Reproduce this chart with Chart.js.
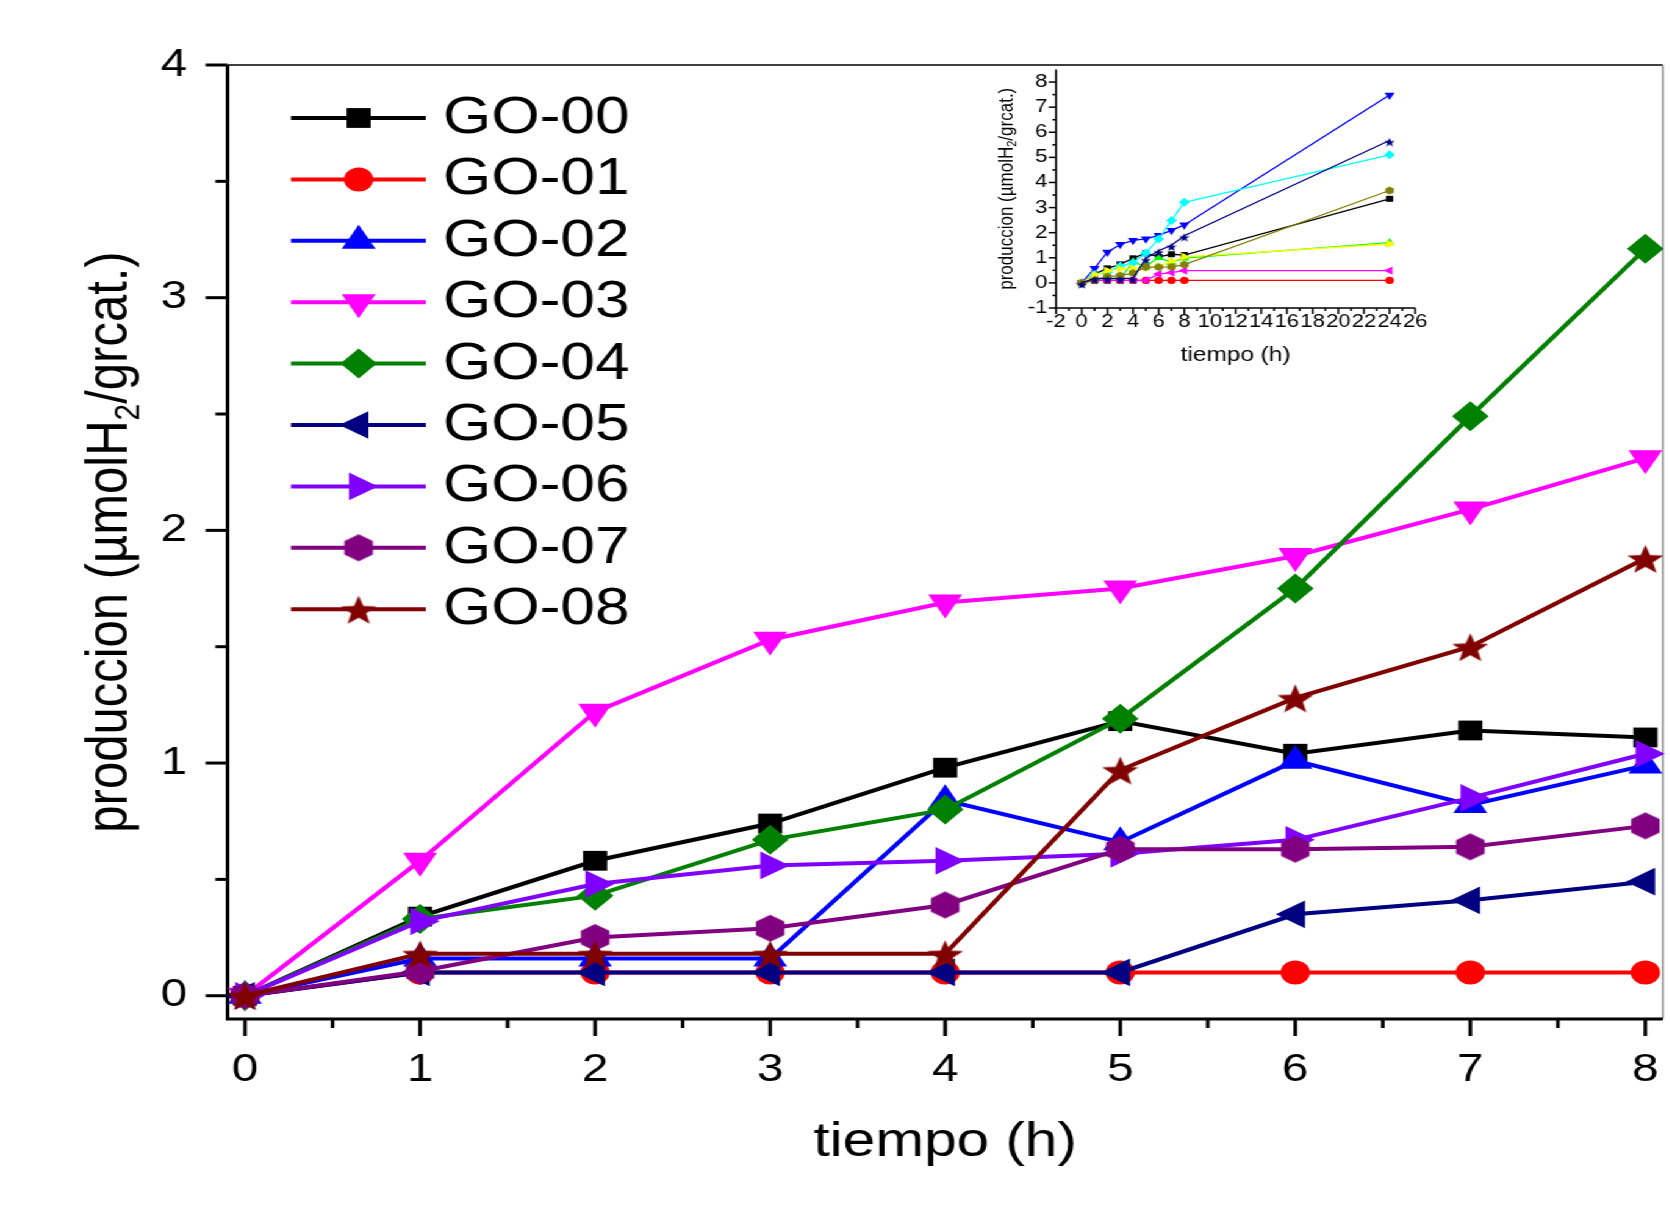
<!DOCTYPE html>
<html>
<head>
<meta charset="utf-8">
<script src="https://cdn.jsdelivr.net/npm/chart.js@4.4.1/dist/chart.umd.min.js"></script>
<style>
  html, body { margin: 0; padding: 0; background: #fff; overflow: hidden; }
  /* la figura original esta estirada en horizontal: se dibuja mas angosta y se estira */
  #lienzo { position: relative; width: 1369px; height: 1225px; transform: scaleX(1.22); transform-origin: 0 0; }
  #graficoPrincipal { position: absolute; left: 0; top: 0; }
  #graficoInset { position: absolute; left: 790px; top: 50px; }
</style>
</head>
<body>
<div id="lienzo">
  <canvas id="graficoPrincipal" width="1369" height="1225"></canvas>
  <canvas id="graficoInset" width="390" height="330"></canvas>
</div>
<script>
// datos (h, umol H2 / g cat.)
var tiempos = [0, 1, 2, 3, 4, 5, 6, 7, 8];
var go00 = [0, 0.34, 0.58, 0.74, 0.98, 1.18, 1.04, 1.14, 1.11];
var go01 = [0, 0.10, 0.10, 0.10, 0.10, 0.10, 0.10, 0.10, 0.10];
var go02 = [0, 0.16, 0.16, 0.16, 0.84, 0.66, 1.01, 0.82, 0.99];
var go03 = [0, 0.58, 1.22, 1.53, 1.69, 1.75, 1.89, 2.09, 2.31];
var go04 = [0, 0.33, 0.43, 0.67, 0.80, 1.19, 1.75, 2.49, 3.21];
var go05 = [0, 0.10, 0.10, 0.10, 0.10, 0.10, 0.35, 0.41, 0.49];
var go06 = [0, 0.32, 0.48, 0.56, 0.58, 0.61, 0.67, 0.85, 1.04];
var go07 = [0, 0.105, 0.25, 0.29, 0.39, 0.63, 0.63, 0.64, 0.73];
var go08 = [0, 0.18, 0.18, 0.18, 0.18, 0.97, 1.28, 1.50, 1.88];

// punto a las 24 h (solo en el inset)
var tiempoFinal = 24;
var produccion24 = [3.35, 0.10, 1.60, 7.48, 5.10, 0.49, 1.55, 3.68, 5.67];

var nombres = ['GO-00', 'GO-01', 'GO-02', 'GO-03', 'GO-04', 'GO-05', 'GO-06', 'GO-07', 'GO-08'];
var series = [go00, go01, go02, go03, go04, go05, go06, go07, go08];
var coloresPrincipal = ['#000000', '#ff0000', '#0000ff', '#ff00ff', '#008000', '#000080', '#8000ff', '#800080', '#800000'];
var coloresInset = ['#000000', '#ff0000', '#00ff00', '#0000ff', '#00ffff', '#ff00ff', '#ffff00', '#808000', '#000080'];

var ticksY = [0, 1, 2, 3, 4];
var ticksX = [0, 1, 2, 3, 4, 5, 6, 7, 8];
var ticksYInset = [-1, 0, 1, 2, 3, 4, 5, 6, 7, 8];
var ticksXInset = [-2, 0, 2, 4, 6, 8, 10, 12, 14, 16, 18, 20, 22, 24, 26];

var FUENTE = "'Liberation Sans', Arial, sans-serif";

function crearHexagono(radio, color) {
	var c = document.createElement('canvas');
	var lado = Math.ceil(radio * 2 + 2);
	c.width = lado; c.height = lado;
	var ctx = c.getContext('2d');
	ctx.fillStyle = color;
	ctx.beginPath();
	for (var i = 0; i < 6; i++) {
		var a = Math.PI / 2 + i * Math.PI / 3;
		ctx.lineTo(lado / 2 + radio * Math.cos(a), lado / 2 - radio * Math.sin(a));
	}
	ctx.closePath();
	ctx.fill();
	return c;
}

function crearEstrella(radio, color) {
	var c = document.createElement('canvas');
	var lado = Math.ceil(radio * 2 + 2);
	c.width = lado; c.height = lado;
	var ctx = c.getContext('2d');
	ctx.fillStyle = color;
	ctx.beginPath();
	for (var i = 0; i < 10; i++) {
		var r = i % 2 === 0 ? radio : radio * 0.42;
		var a = -Math.PI / 2 + i * Math.PI / 5;
		ctx.lineTo(lado / 2 + r * Math.cos(a), lado / 2 + 2 + r * Math.sin(a));
	}
	ctx.closePath();
	ctx.fill();
	return c;
}

// simbolo de cada serie; escala 1 = grafico principal
function simbolo(i, color, escala) {
	switch (i) {
		case 0: return { estilo: 'rect', radio: 14 * escala, rot: 0 };
		case 1: return { estilo: 'circle', radio: 12 * escala, rot: 0 };
		case 2: return { estilo: 'triangle', radio: 16 * escala, rot: 0 };
		case 3: return { estilo: 'triangle', radio: 16 * escala, rot: 180 };
		case 4: return { estilo: 'rectRot', radio: 15 * escala, rot: 0 };
		case 5: return { estilo: 'triangle', radio: 16 * escala, rot: -90 };
		case 6: return { estilo: 'triangle', radio: 16 * escala, rot: 90 };
		case 7: return { estilo: crearHexagono(13.5 * escala, color), radio: 13.5 * escala, rot: 0 };
		default: return { estilo: crearEstrella(15.5 * escala, color), radio: 15.5 * escala, rot: 0 };
	}
}

function construirDatasets(xs, listas, colores, escala, grosor) {
	return listas.map(function(valores, i) {
		var s = simbolo(i, colores[i], escala);
		return {
			label: nombres[i],
			data: valores.map(function(v, j) { return { x: xs[j], y: v }; }),
			borderColor: colores[i],
			backgroundColor: colores[i],
			borderWidth: grosor,
			pointStyle: s.estilo,
			pointRadius: s.radio,
			pointHoverRadius: s.radio,
			pointRotation: s.rot,
			pointBackgroundColor: colores[i],
			pointBorderColor: colores[i],
			pointBorderWidth: 0,
			tension: 0,
			clip: false,
			order: listas.length - i
		};
	});
}

// titulo del eje Y con subindice
function tituloY(ctx, x, y, tam) {
	var partes = ['produccion (\u00b5molH', '2', '/grcat.)'];
	var fSub = Math.round(tam * 0.62);
	ctx.save();
	ctx.translate(x, y);
	ctx.rotate(-Math.PI / 2);
	ctx.fillStyle = '#000';
	ctx.textBaseline = 'middle';
	ctx.textAlign = 'left';
	ctx.font = tam + 'px ' + FUENTE;
	var w1 = ctx.measureText(partes[0]).width;
	var w3 = ctx.measureText(partes[2]).width;
	ctx.font = fSub + 'px ' + FUENTE;
	var w2 = ctx.measureText(partes[1]).width;
	var x0 = -(w1 + w2 + w3) / 2;
	ctx.font = tam + 'px ' + FUENTE;
	ctx.fillText(partes[0], x0, 0);
	ctx.fillText(partes[2], x0 + w1 + w2, 0);
	ctx.font = fSub + 'px ' + FUENTE;
	ctx.fillText(partes[1], x0 + w1, tam * 0.32);
	ctx.restore();
}

function marcas(ctx, escala, valores, eje, largo, desdeX, desdeY) {
	valores.forEach(function(v) {
		var p = escala.getPixelForValue(v);
		ctx.beginPath();
		if (eje === 'x') { ctx.moveTo(p, desdeY); ctx.lineTo(p, desdeY + largo); }
		else { ctx.moveTo(desdeX, p); ctx.lineTo(desdeX - largo, p); }
		ctx.stroke();
	});
}

function medios(lista) {
	var r = [];
	for (var i = 0; i < lista.length - 1; i++) r.push((lista[i] + lista[i + 1]) / 2);
	return r;
}

var pluginPrincipal = {
	id: 'marcoPrincipal',
	beforeDatasetsDraw: function(chart) {
		var ctx = chart.ctx, ca = chart.chartArea;
		ctx.save();
		ctx.strokeStyle = '#000';
		ctx.lineWidth = 1.5;
		ctx.beginPath(); ctx.moveTo(ca.left, ca.top); ctx.lineTo(ca.right, ca.top); ctx.stroke();
		ctx.strokeStyle = '#888';
		ctx.beginPath(); ctx.moveTo(ca.right, ca.top); ctx.lineTo(ca.right, ca.bottom); ctx.stroke();
		ctx.strokeStyle = '#000';
		ctx.lineWidth = 3;
		ctx.beginPath(); ctx.moveTo(ca.left, ca.top); ctx.lineTo(ca.left, ca.bottom); ctx.lineTo(ca.right, ca.bottom); ctx.stroke();
		marcas(ctx, chart.scales.y, ticksY, 'y', 18, ca.left, 0);
		marcas(ctx, chart.scales.y, medios(ticksY), 'y', 10, ca.left, 0);
		marcas(ctx, chart.scales.x, ticksX, 'x', 17, 0, ca.bottom);
		marcas(ctx, chart.scales.x, medios(ticksX), 'x', 9, 0, ca.bottom);
		ctx.restore();
	},
	afterDraw: function(chart) {
		var ctx = chart.ctx, ca = chart.chartArea;
		ctx.save();
		// leyenda
		chart.data.datasets.forEach(function(ds, i) {
			var y = 118 + i * 61.4;
			ctx.strokeStyle = ds.borderColor;
			ctx.fillStyle = ds.borderColor;
			ctx.lineWidth = 4;
			ctx.beginPath(); ctx.moveTo(238.5, y); ctx.lineTo(349, y); ctx.stroke();
			Chart.helpers.drawPoint(ctx, { pointStyle: ds.pointStyle, rotation: ds.pointRotation, radius: ds.pointRadius, borderWidth: 0 }, 294, y);
			ctx.fillStyle = '#000';
			ctx.font = '51px ' + FUENTE;
			ctx.textBaseline = 'middle';
			ctx.textAlign = 'left';
			ctx.fillText(ds.label, 363, y + 1);
		});
		// titulos
		ctx.fillStyle = '#000';
		ctx.font = '48px ' + FUENTE;
		ctx.textAlign = 'center';
		ctx.textBaseline = 'middle';
		ctx.fillText('tiempo (h)', (ca.left + ca.right) / 2, 1143);
		ctx.restore();
		tituloY(ctx, 90, (ca.top + ca.bottom) / 2, 49);
	}
};

var pluginInset = {
	id: 'marcoInset',
	beforeDatasetsDraw: function(chart) {
		var ctx = chart.ctx, ca = chart.chartArea;
		ctx.save();
		ctx.strokeStyle = '#000';
		ctx.lineWidth = 1.5;
		ctx.beginPath(); ctx.moveTo(ca.left, ca.top); ctx.lineTo(ca.left, ca.bottom); ctx.lineTo(ca.right, ca.bottom); ctx.stroke();
		marcas(ctx, chart.scales.y, ticksYInset, 'y', 6, ca.left, 0);
		marcas(ctx, chart.scales.y, medios(ticksYInset), 'y', 3, ca.left, 0);
		marcas(ctx, chart.scales.x, ticksXInset, 'x', 6, 0, ca.bottom);
		marcas(ctx, chart.scales.x, medios(ticksXInset), 'x', 3, 0, ca.bottom);
		ctx.restore();
	},
	afterDraw: function(chart) {
		var ctx = chart.ctx, ca = chart.chartArea;
		ctx.save();
		ctx.fillStyle = '#000';
		ctx.font = '20px ' + FUENTE;
		ctx.textAlign = 'center';
		ctx.textBaseline = 'middle';
		ctx.fillText('tiempo (h)', (ca.left + ca.right) / 2, 305);
		ctx.restore();
		tituloY(ctx, 35, (ca.top + ca.bottom) / 2, 17);
	}
};

function escalaFija(valores) {
	return function(scale) { scale.ticks = valores.map(function(v) { return { value: v }; }); };
}

// fija el tamano del eje y quita el margen extra que Chart.js reserva para las etiquetas
function tamanoFijo(prop, valor) {
	return function(s) {
		s[prop] = valor;
		s.paddingLeft = 0; s.paddingRight = 0; s.paddingTop = 0; s.paddingBottom = 0;
	};
}

function opcionesBase() {
	return {
		responsive: false,
		animation: false,
		events: [],
		plugins: { legend: { display: false }, tooltip: { enabled: false } }
	};
}

function construirGraficoPrincipal() {
	var ctx = document.getElementById('graficoPrincipal').getContext('2d');
	var opciones = opcionesBase();
	opciones.layout = { autoPadding: false, padding: { top: 65, right: 6, left: 0, bottom: 0 } };
	opciones.scales = {
		x: {
			type: 'linear', min: -0.1, max: 8.1,
			afterBuildTicks: escalaFija(ticksX),
			afterFit: tamanoFijo('height', 206),
			grid: { display: false, drawTicks: false },
			border: { display: false },
			ticks: { color: '#000', padding: 28, maxRotation: 0, autoSkip: false, font: { family: FUENTE, size: 39 } }
		},
		y: {
			type: 'linear', min: -0.1, max: 4,
			afterBuildTicks: escalaFija(ticksY),
			afterFit: tamanoFijo('width', 186.5),
			grid: { display: false, drawTicks: false },
			border: { display: false },
			ticks: { color: '#000', padding: 33, font: { family: FUENTE, size: 39 } }
		}
	};
	new Chart(ctx, {
		type: 'line',
		data: { datasets: construirDatasets(tiempos, series, coloresPrincipal, 1, 4) },
		options: opciones,
		plugins: [pluginPrincipal]
	});
}

function construirGraficoInset() {
	var ctx = document.getElementById('graficoInset').getContext('2d');
	var xs = tiempos.concat([tiempoFinal]);
	var listas = series.map(function(s, i) { return s.concat([produccion24[i]]); });
	var opciones = opcionesBase();
	opciones.layout = { autoPadding: false, padding: { top: 19.5, right: 20, left: 0, bottom: 0 } };
	opciones.scales = {
		x: {
			type: 'linear', min: -2, max: 26,
			afterBuildTicks: escalaFija(ticksXInset),
			afterFit: tamanoFijo('height', 72),
			grid: { display: false, drawTicks: false },
			border: { display: false },
			ticks: { color: '#000', padding: 3, maxRotation: 0, autoSkip: false, font: { family: FUENTE, size: 18 } }
		},
		y: {
			type: 'linear', min: -1, max: 8.5,
			afterBuildTicks: escalaFija(ticksYInset),
			afterFit: tamanoFijo('width', 75.6),
			grid: { display: false, drawTicks: false },
			border: { display: false },
			ticks: { color: '#000', padding: 7, font: { family: FUENTE, size: 18 } }
		}
	};
	new Chart(ctx, {
		type: 'line',
		data: { datasets: construirDatasets(xs, listas, coloresInset, 0.3, 1.3) },
		options: opciones,
		plugins: [pluginInset]
	});
}

construirGraficoPrincipal();
construirGraficoInset();
</script>
</body>
</html>
